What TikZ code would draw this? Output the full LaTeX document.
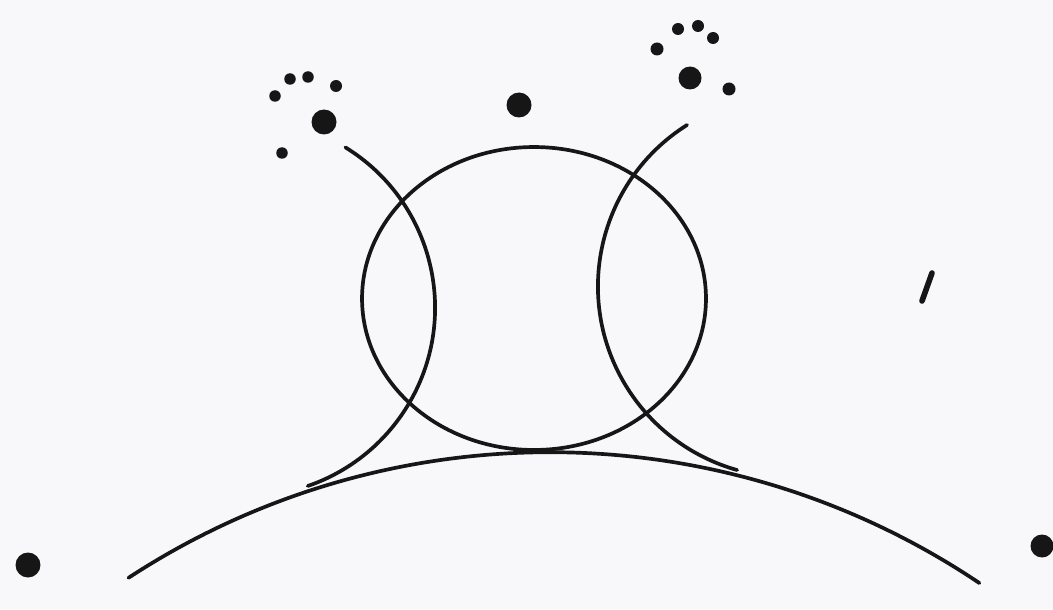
\documentclass[tikz,border=0pt]{standalone}
\usepackage{tikz}
\usepackage{xcolor}
\definecolor{paper}{HTML}{F8F8FA}
\definecolor{ink}{HTML}{161616}

\begin{document}
\begin{tikzpicture}[
    x=0.02cm, y=0.02cm,
    curve/.style={draw=ink, line width=2.1pt, line cap=round},
    bigdot/.style={fill=ink},
    smalldot/.style={fill=ink}
  ]
    % page
    \fill[paper] (0,0) rectangle (1053,609);
    \useasboundingbox (0,0) rectangle (1053,609);

    % centres of the arcs
    \coordinate (mid) at (534,310.5);
    \coordinate (cl) at (246.7,301.2);
    \coordinate (cr) at (788.7,322.6);
    \coordinate (cg) at (550,-613);

    % middle ring
    \draw[curve] (mid) ellipse [x radius=3.44cm, y radius=3.03cm];

    % left and right arcs
    \draw[curve] (cl) ++(58.4:3.768cm) arc[start angle=58.4, end angle=-71.1, radius=3.768cm];
    \draw[curve] (cr) ++(122.2:3.816cm) arc[start angle=122.2, end angle=254.3, radius=3.816cm];

    % ground arc
    \draw[curve] (cg) ++(123.2:15.4cm) arc[start angle=123.2, end angle=56.1, radius=15.4cm];

    % dots over the left arc
    \fill[bigdot] (324,487) circle[radius=0.25cm];
    \foreach \p in {(290,530), (308,532), (275,513), (282,456)}
      \fill[smalldot] \p circle[radius=0.115cm];
    \fill[smalldot] (336,523) circle[radius=0.12cm];

    % dots over the right arc
    \fill[bigdot] (690,531) circle[radius=0.23cm];
    \foreach \p in {(678,580), (698,583), (713,571)}
      \fill[smalldot] \p circle[radius=0.12cm];
    \fill[smalldot] (657,560) circle[radius=0.13cm];
    \fill[smalldot] (729,520) circle[radius=0.13cm];

    % lone dots
    \fill[bigdot] (519,504) circle[radius=0.25cm];
    \fill[bigdot] (28,44) circle[radius=0.25cm];
    \fill[bigdot] (1042,63) circle[radius=0.23cm];

    % dash on the right
    \draw[curve, line width=3.2pt] (922,308) -- (932,336);
  \end{tikzpicture}
\end{document}
